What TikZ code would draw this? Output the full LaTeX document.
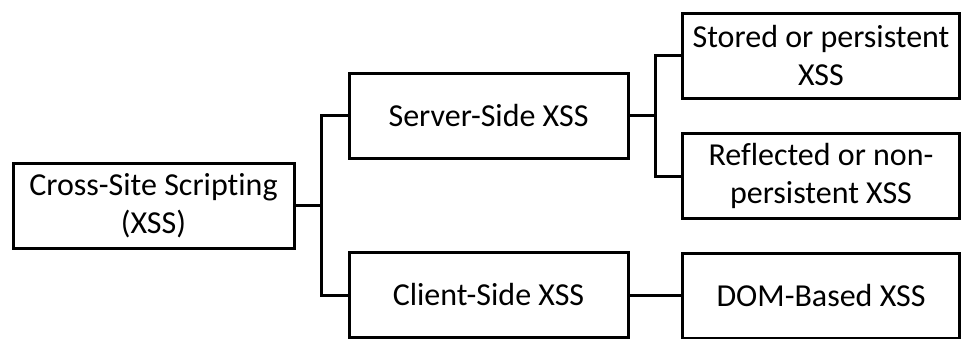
\documentclass[tikz,border=0pt]{standalone}
\usepackage{fontspec}
\setmainfont[Ligatures=NoCommon]{Carlito}
\usetikzlibrary{positioning,calc}
\tikzset{
  box/.style  = {draw, line width=3pt, fill=white, align=center,
                 minimum height=85pt, inner sep=2pt,
                 font=\fontsize{32}{38}\selectfont},
  wide/.style = {box, minimum width=279pt},
  wire/.style = {line width=3pt},
}

\begin{document}
\begin{tikzpicture}[x=1pt,y=-1pt]
  \useasboundingbox (0,0) rectangle (963,338);
  \node[wide,minimum width=281pt] (xss) at (153.5,205.5) {Cross-Site Scripting\\(XSS)};
  \node[wide] (server) at (488.5,115.5) {Server-Side XSS};
  \node[wide] (client) at (488.5,295) {Client-Side XSS};
  \node[wide,minimum width=277pt] (stored) at (821,55.5) {Stored or persistent\\XSS};
  \node[wide,minimum width=277pt] (reflected) at (821,176) {Reflected or non-\\persistent XSS};
  \node[wide,minimum width=277pt] (dom) at (821,295.5) {DOM-Based XSS};
  % split points of the tree
  \coordinate (split1) at ($(xss.east)!0.5!(server.west)$);
  \coordinate (split2) at ($(server.east)!0.5!(stored.west)$);
  \draw[wire] (xss.east) -- (xss.east -| split1) |- (server.west);
  \draw[wire] (xss.east -| split1) |- (client.west);
  \draw[wire] (server.east) -- (server.east -| split2) |- (stored.west);
  \draw[wire] (server.east -| split2) |- (reflected.west);
  \draw[wire] (client.east) -- (client.east -| dom.west);
\end{tikzpicture}
\end{document}
